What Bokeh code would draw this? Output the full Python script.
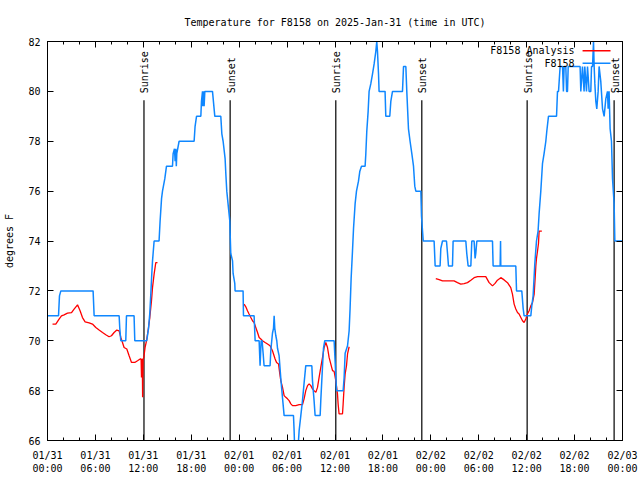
import math
from bokeh.plotting import figure
from bokeh.models import FixedTicker, LinearAxis, Range1d, CustomJSTickFormatter
from bokeh.embed import file_html
from bokeh.resources import INLINE
from bokeh.core.properties import value

NAN = float("nan")

TITLE = "Temperature for F8158 on 2025-Jan-31 (time in UTC)"
Y_LABEL = "degrees F"

# hours since 2025-01-31 00:00 UTC
x_ticks = [0, 6, 12, 18, 24, 30, 36, 42, 48, 54, 60, 66, 72]
x_tick_labels = ["01/31\n00:00", "01/31\n06:00", "01/31\n12:00", "01/31\n18:00",
                 "02/01\n00:00", "02/01\n06:00", "02/01\n12:00", "02/01\n18:00",
                 "02/02\n00:00", "02/02\n06:00", "02/02\n12:00", "02/02\n18:00",
                 "02/03\n00:00"]
x_minor = list(range(0, 73, 2))
y_ticks = [66, 68, 70, 72, 74, 76, 78, 80, 82]

# F8158 station observations
station_hours = [
    0.0, 1.38, 1.50, 1.67, 5.71, 5.84, 8.97, 9.05, 9.18, 9.80, 9.89, 10.84, 10.93, 12.43,
    12.65, 12.81, 12.94, 13.06, 13.15, 13.35, 13.97, 14.10, 14.28, 14.40, 14.69, 14.90,
    15.65, 15.73, 15.90, 15.98, 16.07, 16.13, 16.19, 16.48, 18.36, 18.48, 18.66, 19.20,
    19.28, 19.41, 19.45, 19.53, 19.61, 19.70, 20.66, 20.95, 21.70, 21.83, 21.99, 22.24,
    22.33, 22.45, 22.67, 22.83, 22.87, 22.95, 23.17, 23.24, 23.45, 23.49, 24.49, 24.54,
    25.87, 26.00, 26.50, 26.62, 26.75, 26.87, 27.00, 27.12, 27.87, 27.96, 28.17, 28.30,
    28.38, 28.46, 28.59, 28.71, 28.80, 29.00, 29.21, 29.43, 29.63, 30.80, 30.88, 30.97,
    31.31, 31.43, 31.51, 31.72, 31.93, 32.13, 32.34, 33.10, 33.18, 33.38, 33.51, 34.14,
    34.22, 34.44, 34.56, 34.72, 35.89, 36.01, 36.19, 37.02, 37.14, 37.27, 37.57, 37.77,
    37.89, 38.02, 38.19, 38.32, 38.52, 38.69, 38.94, 39.11, 39.32, 39.77, 39.86, 39.98,
    40.15, 40.27, 40.48, 40.70, 40.90, 41.11, 41.23, 41.32, 41.45, 41.52, 42.27, 42.36,
    42.86, 42.99, 43.20, 44.45, 44.58, 44.87, 44.99, 45.20, 45.40, 45.62, 45.83, 45.99,
    46.12, 46.75, 46.83, 46.96, 47.05, 48.41, 48.54, 49.16, 49.25, 49.46, 49.96, 50.09,
    50.21, 50.71, 50.79, 52.38, 52.50, 52.67, 53.01, 53.13, 53.42, 53.54, 53.63, 53.76,
    55.72, 55.80, 56.68, 56.73, 56.76, 58.64, 58.73, 59.39, 59.56, 59.68, 60.52, 60.64,
    60.81, 61.02, 61.23, 61.43, 61.56, 61.77, 61.98, 62.18, 62.40, 62.52, 62.73, 63.74,
    63.86, 63.99, 64.19, 64.49, 64.60, 64.69, 64.90, 65.00, 65.11, 65.20, 65.31, 66.69,
    66.78, 66.99, 67.19, 67.28, 67.49, 67.62, 67.82, 68.03, 68.12, 68.25, 68.37, 68.45,
    68.54, 68.66, 68.78, 68.95, 69.07, 69.28, 69.50, 69.70, 69.91, 70.12, 70.20, 70.32,
    70.45, 70.62, 70.75, 70.95, 71.04, 72.0]
station_temp = [
    71, 71, 71.8, 72, 72, 71, 71, 70.5, 70, 70, 71, 71, 70, 70,
    70.5, 71.1, 71.9, 72.7, 73.2, 74, 74, 74.8, 75.7, 76, 76.5, 77,
    77, 77.5, 77.7, 77.2, 77.7, 77.0, 77.5, 78, 78, 78.6, 79, 79,
    79.6, 80, 79.4, 80, 79.4, 80, 80, 79, 79, 78.3, 78, 77.3,
    76.7, 76, 75.3, 74.8, 74.3, 73.5, 73.2, 72.7, 72.3, 72, 72, 71,
    71, 70, 70, 69, 70, 70, 69.5, 69, 69, 69.6, 70.3, 70.5,
    71, 70.5, 70.2, 70, 69.7, 69.4, 68.5, 67.7, 67, 67, 66.4, 65.5,
    65.5, 66, 66.4, 67, 67.6, 68.3, 69, 69, 68.4, 67.6, 67, 67,
    67.6, 69, 69.7, 70, 70, 69.2, 68, 68, 68.5, 69.5, 69.8, 70.4,
    71.3, 72.5, 73.6, 74.5, 75.5, 76, 76.4, 76.8, 77, 77, 77.5, 78.4,
    79.2, 80, 80.3, 80.7, 81.1, 81.6, 82, 81.6, 80.7, 80, 80, 79,
    79, 79.6, 80, 80, 81, 81, 80, 78.5, 78, 77.5, 77, 76.2,
    76, 76, 75, 74.4, 74, 74, 73, 73, 73.7, 74, 74, 73.5,
    73, 73, 74, 74, 73.5, 73, 73, 74, 74, 73.3, 73.5, 74,
    74, 73, 73, 74, 73, 73, 72, 72, 71.3, 71, 71, 71.4,
    71.8, 73.1, 74, 74.4, 75.1, 76, 77.1, 77.5, 78, 78.4, 79, 79,
    80, 80, 81, 81, 80, 81, 81, 80, 80, 81, 81, 81,
    80, 81, 80, 81, 80, 81, 80, 80, 81, 81, 82, 81,
    80.3, 79.6, 79.3, 80, 81, 80.4, 79.3, 79, 79.7, 80, 79.3, 80,
    78.5, 78, 76.5, 75.5, 74, 74]

# F8158 Analysis (gaps where no analysis)
analysis_hours = [
    0.63, 1.04, 1.45, 1.75, 2.08, 2.50, 3.01, 3.33, 3.76, 4.08, 4.38, 4.71, 5.21, 5.63,
    6.05, 6.46, 6.89, 7.30, 7.71, 8.01, 8.34, 8.68, 8.97, 9.18, 9.39, 9.59, 9.93, 10.22,
    10.52, 10.93, 11.27, 11.60, 11.72, 11.77, 11.81, 11.87, 11.91, 11.97, 12.06, 12.22,
    12.40, 12.65, 12.81, 13.02, 13.15, 13.35, 13.56, 13.77, NAN,
    24.62, 24.83, 25.04, 25.24, 25.46, 25.67, 25.87, 26.08, 26.30, 26.50, 26.71, 26.92,
    27.25, 27.55, 27.87, 28.17, 28.50, 28.68, 28.93, 29.09, 29.21, 29.43, 29.63, 29.84,
    30.05, 30.25, 30.47, 30.68, 31.09, 31.51, 31.93, 32.13, 32.34, 32.56, 32.76, 32.97,
    33.18, 33.38, 33.60, 33.81, 34.01, 34.22, 34.44, 34.64, 34.85, 35.06, 35.26, 35.47,
    35.69, 35.89, 36.10, 36.31, 36.39, 36.51, 36.94, 37.02, 37.14, 37.27, 37.44, 37.57,
    37.77, NAN,
    48.62, 49.04, 49.46, 50.09, 50.91, 51.34, 51.75, 52.17, 52.59, 53.01, 53.42, 53.85,
    54.88, 55.30, 55.72, 56.04, 56.34, 56.76, 57.18, 57.60, 58.01, 58.22, 58.43, 58.64,
    58.85, 59.05, 59.27, 59.48, 59.68, 59.89, 60.10, 60.31, 60.52, 60.73, 60.94, 61.06,
    61.15, 61.23, 61.36, 61.48, 61.56, 61.90]
analysis_temp = [
    70.67, 70.67, 70.87, 71.0, 71.04, 71.11, 71.13, 71.27, 71.44, 71.2, 70.93, 70.76, 70.72, 70.67,
    70.53, 70.43, 70.33, 70.24, 70.16, 70.2, 70.33, 70.43, 70.4, 70.13, 69.93, 69.73, 69.67, 69.4,
    69.13, 69.13, 69.2, 69.27, 69.27, 68.53, 69.2, 69.27, 67.73, 69.27, 69.33, 69.73,
    70.0, 70.53, 70.93, 71.6, 72.13, 72.67, 73.13, 73.13, NAN,
    71.47, 71.36, 71.2, 71.07, 70.93, 70.8, 70.73, 70.53, 70.33, 70.13, 70.07, 70.0,
    69.93, 69.87, 69.8, 69.6, 69.27, 69.13, 69.07, 68.67, 68.4, 68.13, 67.8, 67.73,
    67.67, 67.6, 67.47, 67.4, 67.4, 67.44, 67.44, 67.67, 68.0, 68.2, 68.27, 68.2,
    68.07, 68.0, 67.93, 68.13, 68.53, 68.93, 69.33, 69.73, 69.93, 69.73, 69.33, 69.07,
    68.8, 68.77, 68.4, 67.87, 67.47, 67.07, 67.07, 67.47, 68.13, 68.67, 69.0, 69.47,
    69.76, NAN,
    72.49, 72.45, 72.4, 72.4, 72.4, 72.33, 72.27, 72.29, 72.33, 72.43, 72.53, 72.57,
    72.57, 72.33, 72.2, 72.3, 72.43, 72.53, 72.44, 72.33, 72.13, 71.87, 71.47, 71.27,
    71.13, 71.07, 70.93, 70.8, 70.73, 70.87, 71.07, 71.2, 71.4, 71.53, 71.87, 72.5,
    73.0, 73.3, 73.6, 73.9, 74.4, 74.4]

sun_hours = [12.08, 22.87, 36.10, 46.87, 60.06, 70.95]
sun_labels = ["Sunrise", "Sunset", "Sunrise", "Sunset", "Sunrise", "Sunset"]

legend_labels = ["F8158 Analysis", "F8158"]

FONT = "DejaVu Sans Mono"
BLUE = "#0f87ff"
RED = "#ff0000"

p = figure(width=640, height=480, output_backend="svg", toolbar_location=None,
           x_range=Range1d(0, 72), y_range=Range1d(66, 82), title=TITLE,
           min_border_left=47, min_border_right=18, min_border_top=40,
           min_border_bottom=40)
p.title.align = "center"
p.title.text_font = FONT
p.title.text_font_size = "10px"
p.title.text_font_style = "normal"
p.title.text_color = "black"
p.title.standoff = 28
p.xgrid.visible = False
p.ygrid.visible = False
p.outline_line_color = "black"
p.outline_line_width = 1
p.background_fill_color = "white"
p.border_fill_color = "white"

blank = CustomJSTickFormatter(code="return '';")


def style_axis(ax, ticks, minor, labels=True):
    ax.ticker = FixedTicker(ticks=ticks, minor_ticks=minor)
    ax.axis_line_color = "black"
    ax.major_tick_line_color = "black"
    ax.minor_tick_line_color = "black"
    ax.major_tick_in = 6
    ax.major_tick_out = 0
    ax.minor_tick_in = 3
    ax.minor_tick_out = 0
    ax.major_label_text_font = FONT
    ax.major_label_text_color = "black"
    ax.major_label_text_font_size = "10px"
    if not labels:
        ax.formatter = blank
        ax.major_label_standoff = 0


xa = p.xaxis[0]
style_axis(xa, x_ticks, x_minor)
xa.major_label_overrides = {t: l for t, l in zip(x_ticks, x_tick_labels)}
xa.major_label_standoff = 9

ya = p.yaxis[0]
style_axis(ya, y_ticks, [])
ya.major_label_standoff = 7
ya.axis_label = Y_LABEL
ya.axis_label_text_font = FONT
ya.axis_label_text_font_size = "10px"
ya.axis_label_text_font_style = "normal"
ya.axis_label_text_color = "black"
ya.axis_label_standoff = 10

top_axis = LinearAxis()
style_axis(top_axis, x_ticks, x_minor, labels=False)
p.add_layout(top_axis, "above")
right_axis = LinearAxis()
style_axis(right_axis, y_ticks, [], labels=False)
p.add_layout(right_axis, "right")

# sunrise / sunset markers
sun_top = 79.64
p.segment(x0=sun_hours, y0=[66] * len(sun_hours), x1=sun_hours, y1=[sun_top] * len(sun_hours),
          line_color="black", line_width=1.2)
p.text(x=sun_hours, y=[79.92] * len(sun_hours), text=sun_labels, angle=math.pi / 2,
       text_align="left", text_baseline="middle", text_font=value(FONT),
       text_font_size="10px", text_color="black", x_offset=1)

p.line(analysis_hours, analysis_temp, line_color=RED, line_width=1.3)
p.line(station_hours, station_temp, line_color=BLUE, line_width=1.5)

# key (label left, sample right)
key_y = [81.63, 81.13]
p.text(x=[66.0, 66.0], y=key_y, text=legend_labels, text_align="right",
       text_baseline="middle", text_font=value(FONT), text_font_size="10px",
       text_color="black")
p.segment(x0=[67.0, 67.0], y0=key_y, x1=[70.5, 70.5], y1=key_y,
          line_color=[RED, BLUE], line_width=1.5)

open("out.html", "w").write(file_html(p, INLINE))
